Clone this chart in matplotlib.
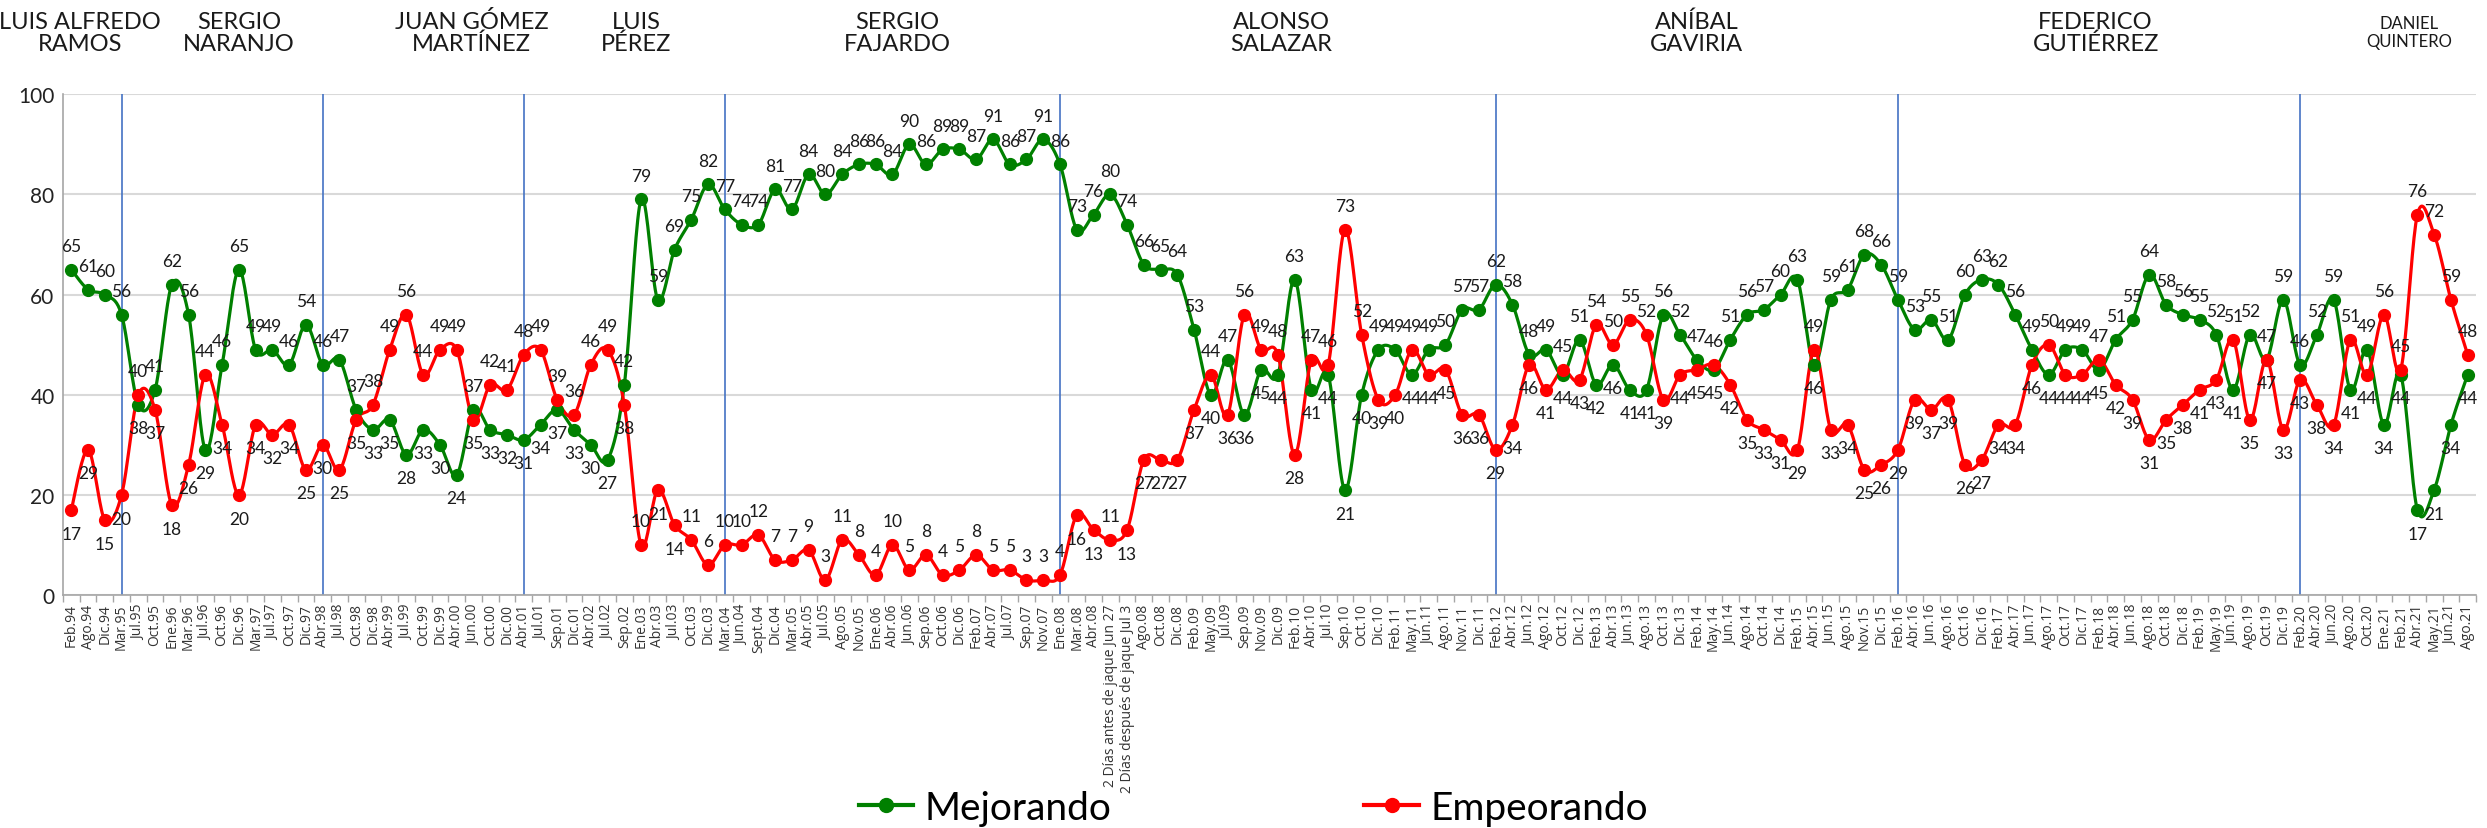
import numpy as np
import matplotlib
matplotlib.use("Agg")
import matplotlib.pyplot as plt
from matplotlib.lines import Line2D

categories = ["Feb.94","Ago.94","Dic.94","Mar.95","Jul.95","Oct.95","Ene.96","Mar.96","Jul.96","Oct.96",
"Dic.96","Mar.97","Jul.97","Oct.97","Dic.97","Abr.98","Jul.98","Oct.98","Dic.98","Abr.99",
"Jul.99","Oct.99","Dic.99","Abr.00","Jun.00","Oct.00","Dic.00","Abr.01","Jul.01","Sep.01",
"Dic.01","Abr.02","Jul.02","Sep.02","Ene.03","Abr.03","Jul.03","Oct.03","Dic.03","Mar.04",
"Jun.04","Sept.04","Dic.04","Mar.05","Abr.05","Jul.05","Ago.05","Nov.05","Ene.06","Abr.06",
"Jun.06","Sep.06","Oct.06","Dic.06","Feb.07","Abr.07","Jul.07","Sep.07","Nov.07","Ene.08",
"Mar.08","Abr.08","2 Días antes de jaque Jun 27","2 Días después de jaque Jul 3","Ago.08","Oct.08","Dic.08","Feb.09","May.09","Jul.09",
"Sep.09","Nov.09","Dic.09","Feb.10","Abr.10","Jul.10","Sep.10","Oct.10","Dic.10","Feb.11",
"May.11","Jun.11","Ago.11","Nov.11","Dic.11","Feb.12","Abr.12","Jun.12","Ago.12","Oct.12",
"Dic.12","Feb.13","Abr.13","Jun.13","Ago.13","Oct.13","Dic.13","Feb.14","May.14","Jun.14",
"Ago.14","Oct.14","Dic.14","Feb.15","Abr.15","Jun.15","Ago.15","Nov.15","Dic.15","Feb.16",
"Abr.16","Jun.16","Ago.16","Oct.16","Dic.16","Feb.17","Abr.17","Jun.17","Ago.17","Oct.17",
"Dic.17","Feb.18","Abr.18","Jun.18","Ago.18","Oct.18","Dic.18","Feb.19","May.19","Jun.19",
"Ago.19","Oct.19","Dic.19","Feb.20","Abr.20","Jun.20","Ago.20","Oct.20","Ene.21","Feb.21",
"Abr.21","May.21","Jun.21","Ago.21"]

mejorando = [65,61,60,56,38,41,62,56,29,46,
65,49,49,46,54,46,47,37,33,35,
28,33,30,24,37,33,32,31,34,37,
33,30,27,42,79,59,69,75,82,77,
74,74,81,77,84,80,84,86,86,84,
90,86,89,89,87,91,86,87,91,86,
73,76,80,74,66,65,64,53,40,47,
36,45,44,63,41,44,21,40,49,49,
44,49,50,57,57,62,58,48,49,44,
51,42,46,41,41,56,52,47,45,51,
56,57,60,63,46,59,61,68,66,59,
53,55,51,60,63,62,56,49,44,49,
49,45,51,55,64,58,56,55,52,41,
52,47,59,46,52,59,41,49,34,44,
17,21,34,44]

empeorando = [17,29,15,20,40,37,18,26,44,34,
20,34,32,34,25,30,25,35,38,49,
56,44,49,49,35,42,41,48,49,39,
36,46,49,38,10,21,14,11,6,10,
10,12,7,7,9,3,11,8,4,10,
5,8,4,5,8,5,5,3,3,4,
16,13,11,13,27,27,27,37,44,36,
56,49,48,28,47,46,73,52,39,40,
49,44,45,36,36,29,34,46,41,45,
43,54,50,55,52,39,44,45,46,42,
35,33,31,29,49,33,34,25,26,29,
39,37,39,26,27,34,34,46,50,44,
44,47,42,39,31,35,38,41,43,51,
35,47,33,43,38,34,51,44,56,45,
76,72,59,48]

alcaldes = ["LUIS ALFREDO\nRAMOS", "SERGIO\nNARANJO", "JUAN GÓMEZ\nMARTÍNEZ", "LUIS\nPÉREZ",
            "SERGIO\nFAJARDO", "ALONSO\nSALAZAR", "ANÍBAL\nGAVIRIA", "FEDERICO\nGUTIÉRREZ",
            "DANIEL\nQUINTERO"]
alcalde_pos = [0.5, 10.0, 23.9, 33.7, 49.3, 72.2, 97.0, 120.8, 139.5]
cambios = ["Mar.95", "Abr.98", "Abr.01", "Mar.04", "Ene.08", "Feb.12", "Feb.16", "Feb.20"]

GREEN = "#008000"
RED = "#FF0000"


def smooth(xs, ys, n=20):
    xs = np.asarray(xs, float)
    ys = np.asarray(ys, float)
    px = np.concatenate([[xs[0]], xs, [xs[-1]]])
    py = np.concatenate([[ys[0]], ys, [ys[-1]]])
    outx, outy = [], []
    t = np.linspace(0, 1, n, endpoint=False)
    for i in range(len(xs) - 1):
        p0x, p1x, p2x, p3x = px[i], px[i+1], px[i+2], px[i+3]
        p0y, p1y, p2y, p3y = py[i], py[i+1], py[i+2], py[i+3]
        c1x = p1x + (p2x - p0x) / 6; c2x = p2x - (p3x - p1x) / 6
        c1y = p1y + (p2y - p0y) / 6; c2y = p2y - (p3y - p1y) / 6
        b0 = (1-t)**3; b1 = 3*(1-t)**2*t; b2 = 3*(1-t)*t**2; b3 = t**3
        outx.append(b0*p1x + b1*c1x + b2*c2x + b3*p2x)
        outy.append(b0*p1y + b1*c1y + b2*c2y + b3*p2y)
    outx.append([xs[-1]]); outy.append([ys[-1]])
    return np.concatenate(outx), np.concatenate(outy)


fig = plt.figure(figsize=(24.87, 8.29), dpi=100)
ax = fig.add_axes([0.0253, 0.281, 0.9703, 0.604])

x = np.arange(len(categories))

ax.set_ylim(0, 100)
ax.set_xlim(-0.5, len(categories) - 0.5)
ax.set_yticks([0, 20, 40, 60, 80, 100])
ax.yaxis.grid(True, color="#D9D9D9", linewidth=1.5)
ax.set_axisbelow(True)

for c in cambios:
    ax.axvline(categories.index(c), color="#4472C4", linewidth=1.2, zorder=1)

for vals, col in ((mejorando, GREEN), (empeorando, RED)):
    sx, sy = smooth(x, vals)
    ax.plot(sx, sy, color=col, linewidth=2.3, zorder=3, clip_on=False)
    ax.plot(x, vals, linestyle="none", marker="o", markersize=8.5, color=col, zorder=4, clip_on=False)

OFF = 17
for i in range(len(categories)):
    g, r = mejorando[i], empeorando[i]
    g_up = g >= r
    lo = r if g_up else g
    lo_up = lo <= 12   # very low values: label above the point, as in the source
    gy = OFF if g_up else (OFF if lo_up else -OFF)
    ry = (OFF if lo_up else -OFF) if g_up else OFF
    ax.annotate(str(g), (x[i], g), xytext=(0, gy), textcoords="offset points",
                ha="center", va="center", fontsize=12.5, family="Lato", color="#1a1a1a", zorder=5)
    ax.annotate(str(r), (x[i], r), xytext=(0, ry), textcoords="offset points",
                ha="center", va="center", fontsize=12.5, family="Lato", color="#1a1a1a", zorder=5)

ax.set_xticks(x)
ax.set_xticklabels(categories, rotation=90, fontsize=10, family="Open Sans", color="#333333")
ax.set_xticks(np.arange(-0.5, len(categories), 1.0), minor=True)
ax.tick_params(axis="x", which="major", length=0, pad=6)
ax.tick_params(axis="x", which="minor", length=5, color="#A6A6A6", width=1)
ax.tick_params(axis="y", length=0, pad=6, labelsize=15, labelcolor="#222222")
for lab in ax.get_yticklabels():
    lab.set_family("Lato")

for s in ("top", "right"):
    ax.spines[s].set_visible(False)
ax.spines["left"].set_color("#A6A6A6")
ax.spines["bottom"].set_color("#A6A6A6")
ax.spines["left"].set_linewidth(1.2)
ax.spines["bottom"].set_linewidth(1.2)

for name, pos in zip(alcaldes, alcalde_pos):
    small = name.startswith("DANIEL")
    ax.text(pos, 1.09 if small else 1.08, name, transform=ax.get_xaxis_transform(),
            ha="center", va="bottom", fontsize=12 if small else 17, family="Lato",
            color="#1a1a1a", linespacing=1.15 if small else 1.05)

handles = [Line2D([0], [0], color=GREEN, lw=3, marker="o", markersize=10),
           Line2D([0], [0], color=RED, lw=3, marker="o", markersize=10)]
fig.legend(handles, ["Mejorando", "Empeorando"], loc="center", bbox_to_anchor=(0.504, 0.024),
           ncol=2, frameon=False, prop={"family": "Lato", "size": 28}, handlelength=1.4,
           handletextpad=0.3, columnspacing=6.5)

fig.savefig("out.png", dpi=100)
